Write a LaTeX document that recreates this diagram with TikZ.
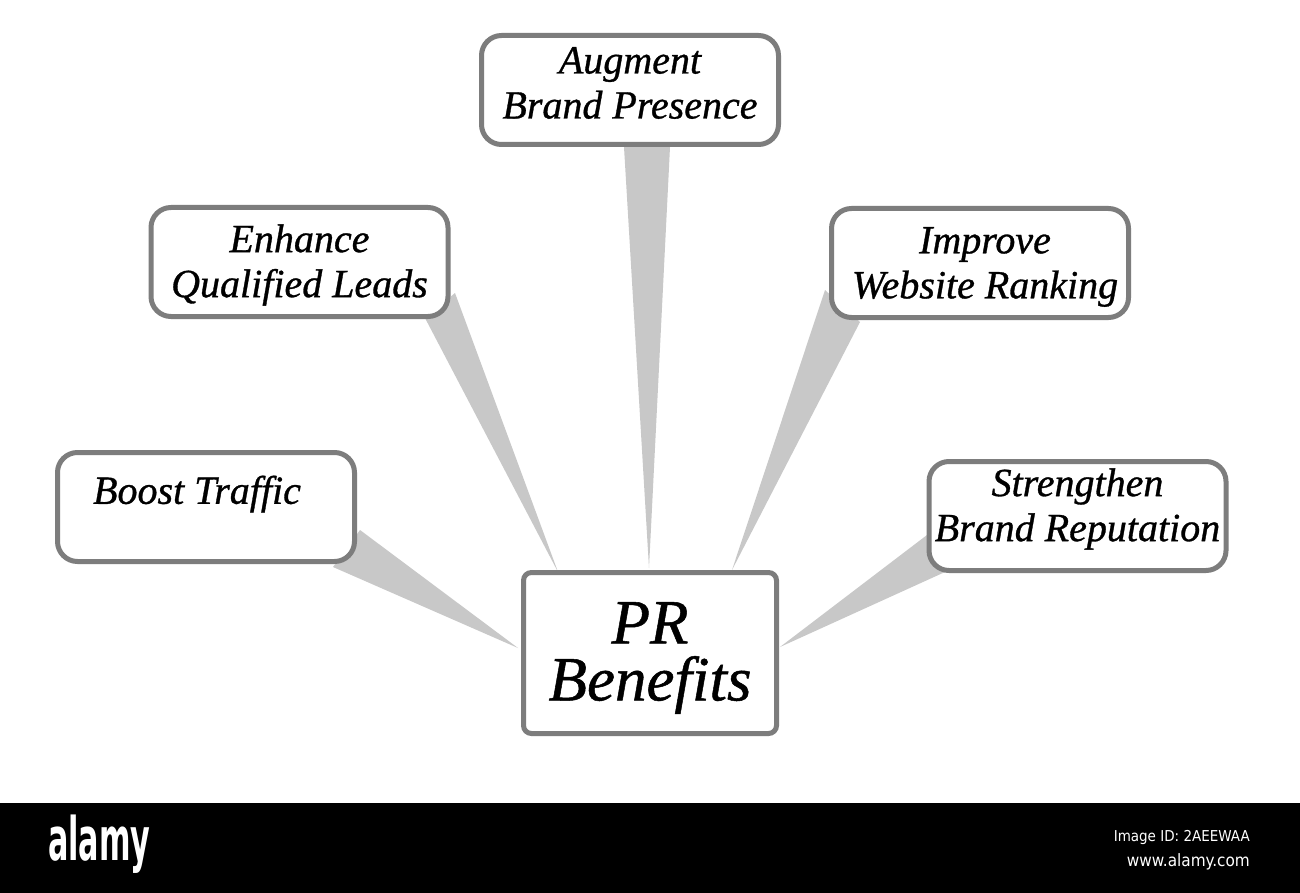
\documentclass[tikz,border=0pt]{standalone}
\usepackage{fontspec}
\setmainfont{Liberation Serif}
\newfontfamily\boxit{Liberation Serif Italic}[FakeBold=0.8]
\newfontfamily\wmfont{DejaVu Sans Condensed}
\usetikzlibrary{calc,backgrounds}
\definecolor{boxgray}{RGB}{125,125,125}
\definecolor{wedgegray}{RGB}{200,200,200}
\begin{document}
\begin{tikzpicture}[x=1pt,y=-1pt,
  benefit/.style={draw=boxgray, line width=5pt, fill=white, rounded corners=20pt,
    minimum width=297pt, minimum height=109pt, inner sep=0pt},
  lbl/.style={inner sep=0pt, align=center, font=\boxit\fontsize{40}{45}\selectfont},
  centerbox/.style={draw=boxgray, line width=5pt, fill=white, rounded corners=8pt,
    minimum width=253pt, minimum height=161pt, inner sep=0pt},
  biglbl/.style={inner sep=0pt, align=center, font=\boxit\fontsize{63}{57}\selectfont},
  wedge/.style={fill=wedgegray, draw=none},
  wm/.style={text=white, inner sep=0pt}]
\useasboundingbox (0,0) rectangle (1300,893);

\node[centerbox] (pr) at (650,653) {};
\node[biglbl] (prt) at ($(pr.center)+(0,5)$) {PR\\Benefits};
\node[benefit] (aug) at (630,90) {};
\node[lbl] (augt) at ($(aug.center)+(0,-7)$) {Augment\\Brand Presence};
\node[benefit] (enh) at (299.5,262) {};
\node[lbl] (enht) at ($(enh.center)+(0,3)$) {Enhance\\Qualified Leads};
\node[benefit] (imp) at (980,263) {};
\node[lbl] (impt) at ($(imp.center)+(5,4)$) {Improve\\Website Ranking};
\node[benefit] (boost) at (206,507) {};
\node[lbl] (boostt) at ($(boost.center)+(-9,-13)$) {Boost Traffic};
\node[benefit] (str) at (1077.5,516) {};
\node[lbl] (strt) at ($(str.center)+(0,-7)$) {Strengthen\\Brand Reputation};

\begin{scope}[on background layer]
  \fill[white] (0,0) rectangle (1300,803);
  \fill[wedge] ($(aug.center)+(-6,57)$) -- ($(aug.center)+(40,57)$) -- ($(pr.north)+(-1,-2)$) -- cycle;
  \fill[wedge] ($(enh.center)+(125.5,56)$) -- ($(enh.center)+(155.5,31)$) -- ($(pr.north)+(-92,2)$) -- cycle;
  \fill[wedge] ($(imp.center)+(-155,27)$) -- ($(imp.center)+(-120,59)$) -- ($(pr.north)+(82,0)$) -- cycle;
  \fill[wedge] ($(boost.center)+(154,23)$) -- ($(boost.center)+(127,60)$) -- ($(pr.west)+(-3,-5)$) -- cycle;
  \fill[wedge] ($(str.center)+(-150.5,19)$) -- ($(str.center)+(-132.5,56)$) -- ($(pr.east)+(1,-6)$) -- cycle;
\end{scope}

\fill[black] (0,803) rectangle (1300,893);
\node[wm, anchor=base west, xscale=0.56, font=\wmfont\bfseries\fontsize{60}{60}\selectfont] (alamy) at (48,860) {alamy};
\node[wm, anchor=base east, font=\wmfont\fontsize{15}{15}\selectfont] (imgid) at (1250,841) {Image ID: 2AEEWAA};
\node[wm, anchor=base east, font=\wmfont\fontsize{17}{17}\selectfont] (url) at (1250,866) {www.alamy.com};
\end{tikzpicture}
\end{document}
